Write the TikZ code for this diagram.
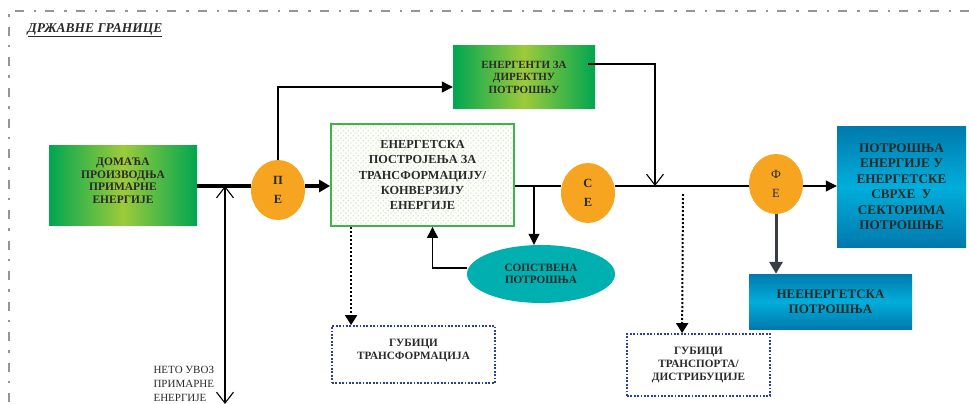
\documentclass[tikz,border=0pt]{standalone}
\usepackage{fontspec}
\setmainfont{Liberation Serif}
\usetikzlibrary{arrows.meta,shapes.geometric,patterns,positioning}
\definecolor{grn}{HTML}{00A650}
\definecolor{lgrn}{HTML}{9DCB3B}
\definecolor{blu}{HTML}{0079AD}
\definecolor{lblu}{HTML}{00AEDB}
\definecolor{orng}{HTML}{F7A521}
\definecolor{teal}{HTML}{00AFAF}
\definecolor{txt}{HTML}{2A2A2A}
\definecolor{bordc}{HTML}{959595}
\definecolor{lossc}{HTML}{2B3FA0}
\definecolor{transc}{HTML}{3DB54A}
\definecolor{dotc}{HTML}{A6D86A}
\definecolor{darkarr}{HTML}{3A3D45}
\newcommand\Fs[2]{\fontsize{#1}{#2}\selectfont}
\pgfdeclarepatternformonly{greendots}{\pgfpointorigin}{\pgfpoint{5pt}{5pt}}{\pgfpoint{5pt}{5pt}}{
  \pgfpathcircle{\pgfpoint{1.25pt}{1.25pt}}{0.75pt}
  \pgfpathcircle{\pgfpoint{3.75pt}{3.75pt}}{0.75pt}
  \pgfusepath{fill}
}
\tikzset{
  greenbox/.style={
    inner sep = 0pt,
    shape = rectangle,
    left color = grn, right color = grn, middle color = lgrn,
    text = txt,
    align = center
  },
}
\tikzset{
  bluebox/.style={
    inner sep = 0pt,
    shape = rectangle,
    top color = blu, bottom color = blu, middle color = lblu,
    text = txt,
    align = center
  },
}
\tikzset{
  orb/.style={
    inner sep = 0pt,
    shape = ellipse,
    fill = orng,
    minimum width = 54pt,
    minimum height = 60pt,
    text = txt,
    align = center,
    font = \Fs{12.5}{19}\bfseries
  },
}
\tikzset{
  lossbox/.style={
    inner sep = 0pt,
    shape = rectangle,
    draw = lossc,
    line width = 1.8pt,
    dash pattern = on 1.8pt off 1.6pt,
    text = txt,
    align = center,
    font = \Fs{11.2}{13}\bfseries
  },
  thinarr/.style={
    line width = 1.1pt,
    -{Triangle[length=11pt,width=11pt]}
  },
  openarr/.style={
    line width = 1.1pt,
    -{Straight Barb[length=11pt,width=17pt,line width=1.1pt]}
  },
  dotarr/.style={
    line width = 2pt,
    dash pattern = on 2pt off 2pt,
    -{Triangle[length=10pt,width=12pt]}
  },
  bord/.style={
    draw = bordc,
    line width = 2.6pt,
    dash pattern = on 9pt off 9pt on 2.5pt off 10pt
  }
}

\begin{document}
\begin{tikzpicture}[x=1pt,y=-1pt]
        \useasboundingbox (0,0) rectangle (969,404);
        \draw[bord] (969,11) -- (9,11) -- (9,404);
        \node[anchor=west, text=txt, font=\Fs{13.5}{14}\bfseries\itshape] (title) at (24,30) {\underline{ДРЖАВНЕ ГРАНИЦЕ}};

        \coordinate (ml) at (0,186);

        \node[greenbox, minimum width=148pt, minimum height=80pt, font=\Fs{11.5}{12.8}\bfseries] (dom) at (123,185) {ДОМАЋА\\ПРОИЗВОДЊА\\ПРИМАРНЕ\\ЕНЕРГИЈЕ\\[-4pt]};
        \node[orb] (pe) at (278,190) {П\\Е};
        \node[draw=transc, line width=1.8pt, pattern=greendots, pattern color=dotc, minimum width=183pt, minimum height=102pt, inner sep=0pt, align=center, text=txt, font=\Fs{12.3}{15.4}\bfseries] (trans) at (422.5,175) {ЕНЕРГЕТСКА\\ПОСТРОЈЕЊА ЗА\\ТРАНСФОРМАЦИЈУ/\\КОНВЕРЗИЈУ\\ЕНЕРГИЈЕ};
        \node[greenbox, minimum width=142pt, minimum height=62pt, font=\Fs{11}{12.5}\bfseries] (en) at (524,77) {ЕНЕРГЕНТИ ЗА\\ДИРЕКТНУ\\ПОТРОШЊУ};
        \node[orb] (se) at (588,193) {С\\Е};
        \node[shape=ellipse, fill=teal, minimum width=148pt, minimum height=58pt, inner sep=0pt, align=center, text=txt, font=\Fs{11.2}{12}\bfseries] (sp) at (541,274) {СОПСТВЕНА\\ПОТРОШЊА};
        \node[orb, font=\Fs{12.5}{19}] (fe) at (776,184) {Ф\\Е};
        \node[bluebox, minimum width=129pt, minimum height=121pt, font=\Fs{13.2}{15.5}\bfseries] (pot) at (901.5,186.5) {ПОТРОШЊА\\ЕНЕРГИЈЕ У\\ЕНЕРГЕТСКЕ\\СВРХЕ \ У\\СЕКТОРИМА\\ПОТРОШЊЕ};
        \node[bluebox, minimum width=163pt, minimum height=55pt, font=\Fs{13}{15}\bfseries] (nen) at (830.5,301.5) {НЕЕНЕРГЕТСКА\\ПОТРОШЊА};
        \node[lossbox, minimum width=163pt, minimum height=57pt] (gt) at (413.5,354.5) {ГУБИЦИ\\ТРАНСФОРМАЦИЈА\\[-2pt]};
        \node[lossbox, minimum width=143pt, minimum height=62pt] (gtd) at (698.5,365) {ГУБИЦИ\\ТРАНСПОРТА/\\ДИСТРИБУЦИЈЕ};
        \node[anchor=west, align=left, text=txt, font=\Fs{11}{14}] (imp) at (150,384) {НЕТО УВОЗ\\ПРИМАРНЕ\\ЕНЕРГИЈЕ};

        \draw[line width=3.5pt] (dom.east |- ml) -- (pe.west |- ml);
        \draw[line width=3.5pt, -{Triangle[length=11pt,width=12pt]}] (pe.east |- ml) -- (trans.west |- ml);
        \draw[thinarr] (pe.north) |- ([yshift=-10pt]en.west);
        \coordinate (cj) at (655,186);
        \draw[openarr] ([xshift=-7pt,yshift=13pt]en.east) -| (cj);
        \draw[line width=1.1pt] (trans.east |- ml) -- (se.west |- ml);
        \draw[line width=1.1pt] (se.east |- ml) -- (fe.west |- ml);
        \coordinate (br) at (534,186);
        \draw[thinarr] (br) -- (sp.north -| br);
        \draw[thinarr] ([yshift=6pt]sp.west) -| ([xshift=10pt]trans.south);
        \draw[thinarr] (fe.east |- ml) -- (pot.west |- ml);
        \draw[line width=3pt, draw=darkarr, -{Triangle[length=12pt,width=13pt]}, darkarr] (fe.south) -- (fe.south |- nen.north);

        \coordinate (t1) at ([xshift=20pt]gt.north west);
        \draw[dotarr] (trans.south -| t1) -- (t1);
        \coordinate (d2) at (683,194);
        \coordinate (t2) at ([xshift=56pt]gtd.north west);
        \draw[dotarr] (d2) -- (t2);

        \coordinate (low) at (225,404);
        \draw[openarr, {Straight Barb[length=11pt,width=17pt,line width=1.1pt]}-{Straight Barb[length=11pt,width=17pt,line width=1.1pt]}] (low) -- (low |- ml);
\end{tikzpicture}
\end{document}
